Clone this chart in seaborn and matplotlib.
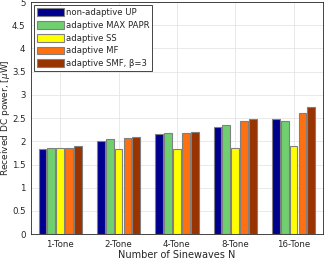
import pandas as pd
import matplotlib
matplotlib.use('Agg')
import matplotlib.pyplot as plt
import seaborn as sns

# Data
tones = ['1-Tone', '2-Tone', '4-Tone', '8-Tone', '16-Tone']
series = ['non-adaptive UP', 'adaptive MAX PAPR', 'adaptive SS',
          'adaptive MF', 'adaptive SMF, \u03b2=3']
non_adaptive_up = [1.83, 2.01, 2.16, 2.31, 2.48]
adaptive_max_papr = [1.86, 2.04, 2.18, 2.35, 2.43]
adaptive_ss = [1.86, 1.84, 1.84, 1.86, 1.89]
adaptive_mf = [1.86, 2.08, 2.18, 2.44, 2.61]
adaptive_smf = [1.90, 2.10, 2.20, 2.49, 2.74]
colors = ['#00008F', '#70D070', '#FFFF00', '#FF7010', '#993300']

values = [non_adaptive_up, adaptive_max_papr, adaptive_ss, adaptive_mf, adaptive_smf]
records = []
for name, vals in zip(series, values):
    for t, v in zip(tones, vals):
        records.append({'tone': t, 'series': name, 'power': v})
df = pd.DataFrame(records)

sns.set_theme(style='whitegrid')
plt.rcParams['font.family'] = ['DejaVu Sans']

fig = plt.figure(figsize=(3.24, 2.61), dpi=100)
ax = fig.add_axes([0.096, 0.103, 0.900, 0.889])

sns.barplot(data=df, x='tone', y='power', hue='series', order=tones,
            hue_order=series, palette=colors, saturation=1, width=0.76,
            gap=0.12, edgecolor='#808080', linewidth=0.8, ax=ax)

ax.set_ylim(0, 5)
ax.set_xlim(-0.5, 4.5)
ax.set_yticks([0, 0.5, 1, 1.5, 2, 2.5, 3, 3.5, 4, 4.5, 5])
ax.set_yticklabels(['0', '0.5', '1', '1.5', '2', '2.5', '3', '3.5', '4', '4.5', '5'])
ax.tick_params(axis='both', labelsize=6.2, length=2, pad=2, colors='#262626')
ax.set_xlabel('Number of Sinewaves N', fontsize=7, labelpad=1, color='#262626')
ax.set_ylabel('Received DC power, [$\\mu$W]', fontsize=6.5, color='#262626')
ax.yaxis.set_label_coords(-0.066, 0.5)
ax.grid(True, color='#E5E5E5', linewidth=0.6)
ax.set_axisbelow(True)
for s in ax.spines.values():
    s.set_color('#262626')
    s.set_linewidth(0.6)

leg = ax.legend(loc='upper left', fontsize=6.1, frameon=True, fancybox=False,
                edgecolor='#262626', framealpha=1, borderpad=0.3,
                labelspacing=0.45, handlelength=3.2, handleheight=1.05,
                handletextpad=0.25, borderaxespad=0.4, title=None)
leg.get_frame().set_linewidth(0.6)

fig.savefig('out.png', dpi=100)
